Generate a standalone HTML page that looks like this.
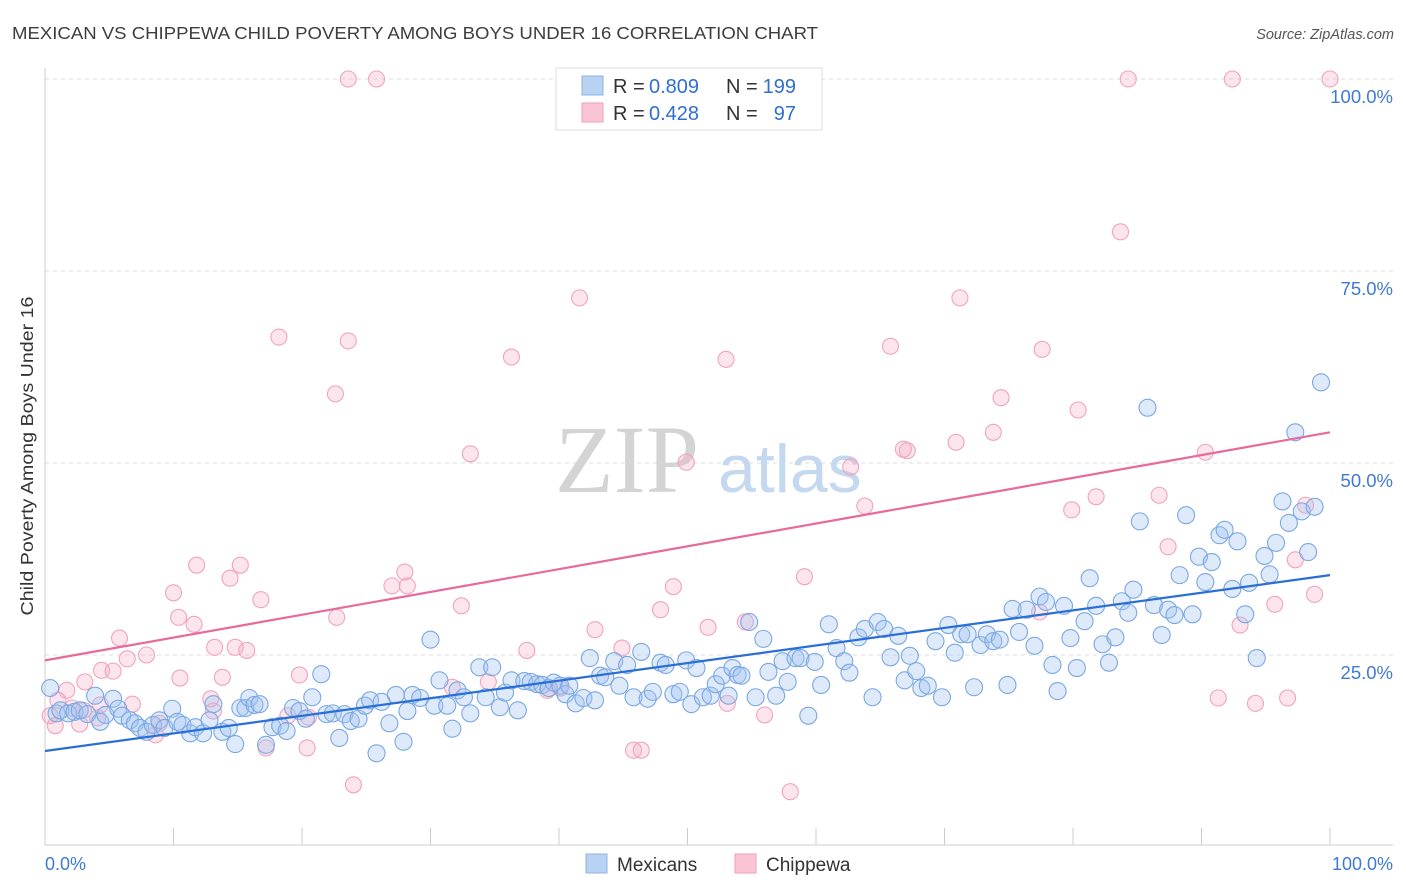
<!DOCTYPE html>
<html><head><meta charset="utf-8"><style>
body{margin:0;background:#fff;font-family:"Liberation Sans",sans-serif;}
#wrap{position:relative;width:1406px;height:892px;overflow:hidden;}
</style></head><body>
<div id="wrap">
<svg id="svg" width="1406" height="892" xmlns="http://www.w3.org/2000/svg">
<text x="12" y="39" font-size="17.5" fill="#3d3d3d" textLength="806" lengthAdjust="spacingAndGlyphs">MEXICAN VS CHIPPEWA CHILD POVERTY AMONG BOYS UNDER 16 CORRELATION CHART</text>
<text x="1394" y="39" font-size="14.5" fill="#555" font-style="italic" text-anchor="end">Source: ZipAtlas.com</text>
<text transform="translate(33,456) rotate(-90)" font-size="17.5" fill="#333" text-anchor="middle" textLength="319" lengthAdjust="spacingAndGlyphs">Child Poverty Among Boys Under 16</text>
<g id="grid"></g>
<text x="555" y="492" font-size="96" fill="#d4d4d4" font-family="Liberation Serif,serif">ZIP</text>
<text x="718" y="492" font-size="68" fill="#c4d8f0">atlas</text>
<g id="pts"></g>
<g id="lines"></g>
<g>
<rect x="556" y="68" width="266" height="62" fill="#fff" stroke="#ddd"/>
<rect x="582" y="76" width="21" height="19" fill="#b8d2f4" stroke="#8db3e6"/>
<rect x="582" y="103" width="21" height="19" fill="#f9c4d4" stroke="#ef9fba"/>
<text x="613" y="93" font-size="20" fill="#333">R =</text>
<text x="649" y="93" font-size="20" fill="#2e6fd0">0.809</text>
<text x="726" y="93" font-size="20" fill="#333">N =</text>
<text x="796" y="93" font-size="20" fill="#2e6fd0" text-anchor="end">199</text>
<text x="613" y="120" font-size="20" fill="#333">R =</text>
<text x="649" y="120" font-size="20" fill="#2e6fd0">0.428</text>
<text x="726" y="120" font-size="20" fill="#333">N =</text>
<text x="796" y="120" font-size="20" fill="#2e6fd0" text-anchor="end">97</text>
</g>
<g>
<rect x="586" y="854" width="21" height="19" fill="#b8d2f4" stroke="#8db3e6"/>
<text x="617" y="871" font-size="19" fill="#333">Mexicans</text>
<rect x="735" y="854" width="21" height="19" fill="#f9c4d4" stroke="#ef9fba"/>
<text x="766" y="871" font-size="19" fill="#333">Chippewa</text>
</g>
<text x="45" y="870" font-size="18" fill="#3f7ad6">0.0%</text>
<text x="1393" y="870" font-size="18" fill="#3f7ad6" text-anchor="end">100.0%</text>
</svg>
</div>
<script>
const yTicks=[25,50,75,100];
const yTickLabels=["25.0%","50.0%","75.0%","100.0%"];
const xTicks=[0,10,20,30,40,50,60,70,80,90,100];
const blueX=[0.4,0.9,1.2,1.8,2.3,2.7,3.3,3.9,4.3,4.7,5.3,5.7,6.0,6.6,7.0,7.4,7.9,8.4,8.9,9.3,9.9,10.3,10.7,11.3,11.7,12.3,12.8,13.1,13.8,14.3,14.8,15.2,15.6,15.9,16.3,16.7,17.2,17.7,18.3,18.8,19.3,19.8,20.3,20.8,21.5,21.9,22.4,22.9,23.3,23.8,24.4,24.9,25.3,25.8,26.2,26.8,27.3,27.9,28.2,28.6,29.2,30.0,30.3,30.7,31.3,31.7,32.1,32.6,33.1,33.8,34.3,34.8,35.4,35.8,36.3,36.8,37.3,37.8,38.3,38.7,39.2,39.6,40.1,40.5,40.8,41.3,41.9,42.4,42.8,43.2,43.6,44.3,44.7,45.3,45.8,46.4,46.9,47.3,47.9,48.3,48.9,49.4,49.9,50.3,50.7,51.2,51.8,52.2,52.7,53.2,53.5,53.9,54.2,54.8,55.3,55.9,56.3,56.9,57.4,57.8,58.4,58.8,59.4,59.9,60.4,61.0,61.6,62.2,62.6,63.3,63.8,64.4,64.8,65.3,65.8,66.4,66.9,67.3,67.8,68.2,68.7,69.3,69.8,70.3,70.8,71.3,71.8,72.3,72.8,73.3,73.8,74.3,74.9,75.3,75.8,76.4,77.0,77.4,77.9,78.4,78.8,79.3,79.8,80.3,80.9,81.3,81.8,82.3,82.8,83.3,83.8,84.3,84.7,85.2,85.8,86.3,86.9,87.4,87.9,88.3,88.8,89.3,89.8,90.3,90.8,91.4,91.8,92.4,92.8,93.4,93.7,94.3,94.9,95.3,95.8,96.3,96.8,97.3,97.8,98.3,98.8,99.3];
const blueY=[20.7,17.4,17.8,17.4,17.6,17.8,17.3,19.7,16.3,17.2,19.3,18.0,17.1,16.5,16.1,15.5,15.0,15.9,16.5,15.5,18.0,16.3,15.9,14.8,15.6,14.8,16.5,18.6,15.0,15.5,13.4,18.1,18.1,19.4,18.5,18.6,13.3,15.6,15.8,15.1,18.1,17.7,16.7,19.5,22.5,17.3,17.4,14.2,17.3,16.4,16.7,18.4,19.1,12.2,18.9,16.1,19.8,13.7,17.7,19.8,19.4,27.0,18.4,21.7,18.4,15.4,20.4,19.5,17.4,23.4,19.5,23.4,18.2,20.1,21.7,17.8,21.6,21.5,21.2,21.1,20.7,21.4,21.0,19.9,21.0,18.7,19.4,24.6,19.1,22.3,22.1,24.2,21.0,23.7,19.5,25.4,19.3,20.2,24.0,23.7,19.9,20.2,24.3,18.6,23.3,19.5,19.7,21.2,22.3,19.7,23.3,22.4,22.3,29.3,19.5,27.1,22.8,19.7,24.2,21.5,24.6,24.6,17.1,24.1,21.1,29.0,25.9,24.2,22.7,27.3,28.4,19.5,29.3,28.4,24.7,27.5,21.7,24.9,22.9,20.7,21.0,26.8,19.5,28.9,25.3,27.7,27.7,20.8,26.3,27.7,26.8,27.0,21.1,31.0,28.0,30.9,26.2,32.6,31.9,23.7,20.3,31.4,27.2,23.3,29.4,35.0,31.4,26.4,24.0,27.3,32.0,30.5,33.5,42.4,57.2,31.5,27.6,30.9,30.2,35.4,43.2,30.3,37.8,34.5,37.1,40.6,41.3,33.6,39.8,30.3,34.4,24.6,37.9,35.5,39.6,45.0,42.2,54.0,43.7,38.4,44.3,60.5];
const pinkX=[23.6,25.8,84.3,92.4,100,83.7,41.6,71.2,18.2,23.6,53.0,36.3,65.8,77.6,22.6,74.4,80.4,73.8,70.9,66.8,67.1,90.3,33.1,49.9,62.7,63.8,81.8,86.7,79.9,87.4,98.1,97.3,11.8,15.2,14.4,28.0,27.0,28.2,59.1,10.0,16.8,48.9,32.4,47.9,95.7,98.8,10.4,11.6,22.7,42.8,51.6,54.5,93.0,5.8,13.2,14.8,15.7,37.5,44.9,7.9,6.4,4.4,5.3,19.8,10.5,13.8,3.1,31.7,34.5,39.1,1.7,12.9,13.1,6.8,4.3,1.0,2.1,3.0,18.9,20.5,4.1,77.4,91.3,94.2,96.7,53.1,56.0,0.8,2.7,8.6,17.2,20.4,45.8,46.4,24.0,58.0,40.1,0.4,8.9];
const pinkY=[100,100,100,100,100,80.1,71.5,71.5,66.4,65.9,63.5,63.8,65.2,64.8,59.0,58.5,56.9,54.0,52.7,51.8,51.6,51.4,51.2,50.1,49.5,44.4,45.6,45.8,43.9,39.1,44.5,37.4,36.7,36.7,35.0,35.8,34.0,34.0,35.2,33.1,32.2,33.9,31.4,30.9,31.6,32.9,29.9,29.0,29.9,28.3,28.6,29.3,28.9,27.2,26.0,26.0,25.6,25.6,25.9,25.0,24.5,23.0,22.9,22.4,22.0,22.1,21.5,20.8,21.5,20.4,20.4,19.3,17.7,18.6,18.5,19.1,18.1,17.8,17.1,16.9,16.8,30.6,19.4,18.7,19.4,18.7,17.2,15.8,16.0,14.6,12.9,12.9,12.6,12.6,8.1,7.2,20.7,17.1,16.1];
const blueLine=[12.5,35.4];
const pinkLine=[24.3,54.0];
const NS='http://www.w3.org/2000/svg';
const X0=45,X1=1330,Y0=847,Y100=79;
function sx(v){return X0+(X1-X0)*v/100;}
function sy(v){return Y0-(Y0-Y100)*v/100;}
function mk(t,a){const e=document.createElementNS(NS,t);for(const k in a)e.setAttribute(k,a[k]);return e;}
const grid=document.getElementById('grid');
const ax=mk('line',{x1:45,y1:68,x2:45,y2:845,stroke:'#ccc','stroke-width':1});


grid.appendChild(ax);
const bx=mk('line',{x1:45,y1:845,x2:1393,y2:845,stroke:'#ccc','stroke-width':1});


grid.appendChild(bx);
yTicks.forEach((t,i)=>{
 const g=mk('line',{x1:45,y1:sy(t),x2:1393,y2:sy(t),stroke:'#ddd','stroke-dasharray':'4,4'});
 
 
 grid.appendChild(g);
 const l=mk('text',{x:1393,y:sy(t)+24,'font-size':18.5,fill:'#3f7ad6','text-anchor':'end'});
 l.textContent=yTickLabels[i];
 
 
 grid.appendChild(l);
});
xTicks.forEach(t=>{
 const k=mk('line',{x1:sx(t),y1:828,x2:sx(t),y2:845,stroke:'#ccc'});
 
 
 grid.appendChild(k);
});
const pts=document.getElementById('pts');
pinkX.forEach((x,i)=>{
 const c=mk('circle',{cx:sx(x),cy:sy(pinkY[i]),r:8,fill:'rgba(246,170,196,0.3)',stroke:'#f0a3be','stroke-width':1.1});
 
 
 pts.appendChild(c);
});
blueX.forEach((x,i)=>{
 const c=mk('circle',{cx:sx(x),cy:sy(blueY[i]),r:8.5,fill:'rgba(160,196,240,0.35)',stroke:'#7aa8e3','stroke-width':1.1});
 
 
 pts.appendChild(c);
});
const lines=document.getElementById('lines');
const bl=mk('line',{x1:sx(0),y1:sy(blueLine[0]),x2:sx(100),y2:sy(blueLine[1]),stroke:'#2a6fd6','stroke-width':2.2});


lines.appendChild(bl);
const pl=mk('line',{x1:sx(0),y1:sy(pinkLine[0]),x2:sx(100),y2:sy(pinkLine[1]),stroke:'#e8699a','stroke-width':2.2});


lines.appendChild(pl);
</script>
</body></html>
